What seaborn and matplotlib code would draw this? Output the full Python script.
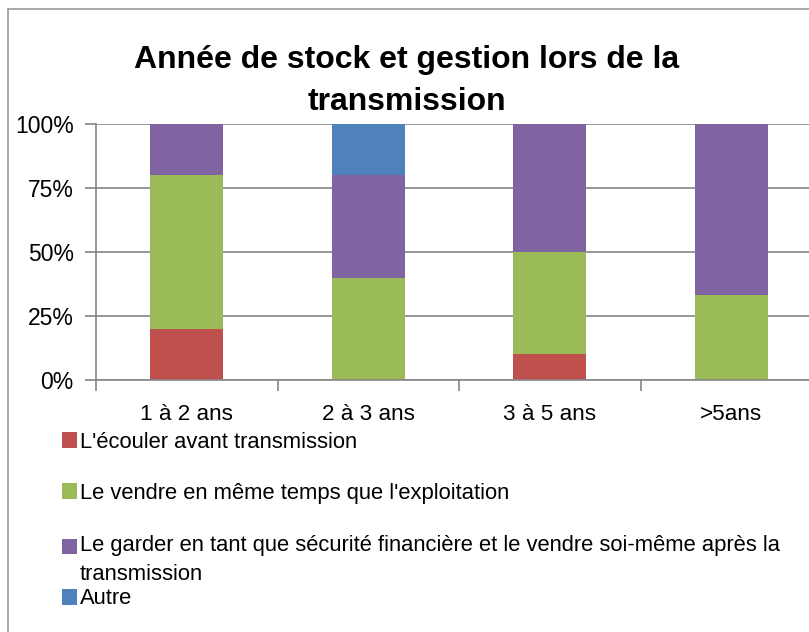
import matplotlib
matplotlib.use("Agg")
import matplotlib.pyplot as plt
import seaborn as sns
import pandas as pd
from matplotlib.patches import Rectangle
from matplotlib.lines import Line2D
from matplotlib.legend_handler import HandlerPatch

categories = ["1 à 2 ans", "2 à 3 ans", "3 à 5 ans", ">5ans"]
series_names = [
    "L'écouler avant transmission",
    "Le vendre en même temps que l'exploitation",
    "Le garder en tant que sécurité financière et le vendre soi-même après la\ntransmission",
    "Autre",
]
ecouler = [20, 0, 10, 0]
vendre = [60, 40, 40, 33.3]
garder = [20, 40, 50, 66.7]
autre = [0, 20, 0, 0]
yticks = [0, 25, 50, 75, 100]
ytick_labels = ["0%", "25%", "50%", "75%", "100%"]
colors = ["#C0504D", "#9BBB59", "#8064A2", "#4F81BD"]

sns.set_theme(style="white")
plt.rcParams["font.family"] = ["Liberation Sans", "DejaVu Sans"]

W, H = 809, 632
fig = plt.figure(figsize=(W / 100, H / 100), dpi=100)
ax = fig.add_axes([96 / W, (H - 380) / H, (822 - 96) / W, (380 - 124) / H])

values = [ecouler, vendre, garder, autre]
bottom = [0.0] * len(categories)
handles = []
for name, vals, col in zip(series_names, values, colors):
    df = pd.DataFrame({"cat": categories, "val": vals})
    sns.barplot(data=df, x="cat", y="val", order=categories, color=col,
                width=0.4, bottom=bottom, ax=ax, errorbar=None,
                saturation=1, linewidth=0)
    bottom = [b + v for b, v in zip(bottom, vals)]
    handles.append(Rectangle((0, 0), 1, 1, facecolor=col, edgecolor="none"))

ax.set_xlim(-0.5, 3.5)
ax.set_ylim(0, 100)
ax.set_yticks(yticks)
ax.set_yticklabels(ytick_labels)
ax.set_xlabel("")
ax.set_ylabel("")
ax.yaxis.grid(True, color="#868686", linewidth=1.2)
ax.set_axisbelow(True)
for s in ["top", "right"]:
    ax.spines[s].set_visible(False)
for s in ["left", "bottom"]:
    ax.spines[s].set_color("#868686")
    ax.spines[s].set_linewidth(1.2)
ax.tick_params(axis="y", length=8, color="#868686", width=1.2, labelsize=16.5,
               pad=8, left=True, direction="out")
ax.set_xticks([-0.5, 0.5, 1.5, 2.5, 3.5], minor=True)
ax.tick_params(axis="x", which="minor", length=8, color="#868686", width=1.2,
               bottom=True, direction="out")
ax.tick_params(axis="x", which="major", length=0, labelsize=16.2, pad=17)
for t in ax.get_xticklabels() + ax.get_yticklabels():
    t.set_color("black")

fig.text(407 / W, (H - 81) / H, "Année de stock et gestion lors de la\ntransmission",
         ha="center", va="center", fontsize=23, fontweight="bold",
         linespacing=1.55, color="black")


def top_aligned_patch(legend, orig_handle, xdescent, ydescent, width, height, fontsize):
    return Rectangle((-xdescent, -ydescent + 0.64 * fontsize), width, height)


# legend entries
legend_y = [442, 493, 560, 599]
for i, (hnd, name, yy) in enumerate(zip(handles, series_names, legend_y)):
    hmap = {}
    if "\n" in name:
        hmap = {hnd: HandlerPatch(patch_func=top_aligned_patch)}
    leg = fig.legend([hnd], [name], loc="center left",
                     bbox_to_anchor=(62 / W, (H - yy) / H), frameon=False,
                     fontsize=15.8, handlelength=0.7, handleheight=0.7,
                     handletextpad=0.1, borderpad=0, borderaxespad=0,
                     handler_map=hmap)
    for t in leg.get_texts():
        t.set_linespacing(1.45)
        t.set_color("black")

# outer frame
fig.add_artist(Line2D([8 / W, 8 / W], [0, (H - 9) / H], color="#999999", lw=1.2,
                      transform=fig.transFigure))
fig.add_artist(Line2D([8 / W, 1], [(H - 9) / H, (H - 9) / H], color="#999999",
                      lw=1.2, transform=fig.transFigure))

fig.savefig("out.png", dpi=100)
